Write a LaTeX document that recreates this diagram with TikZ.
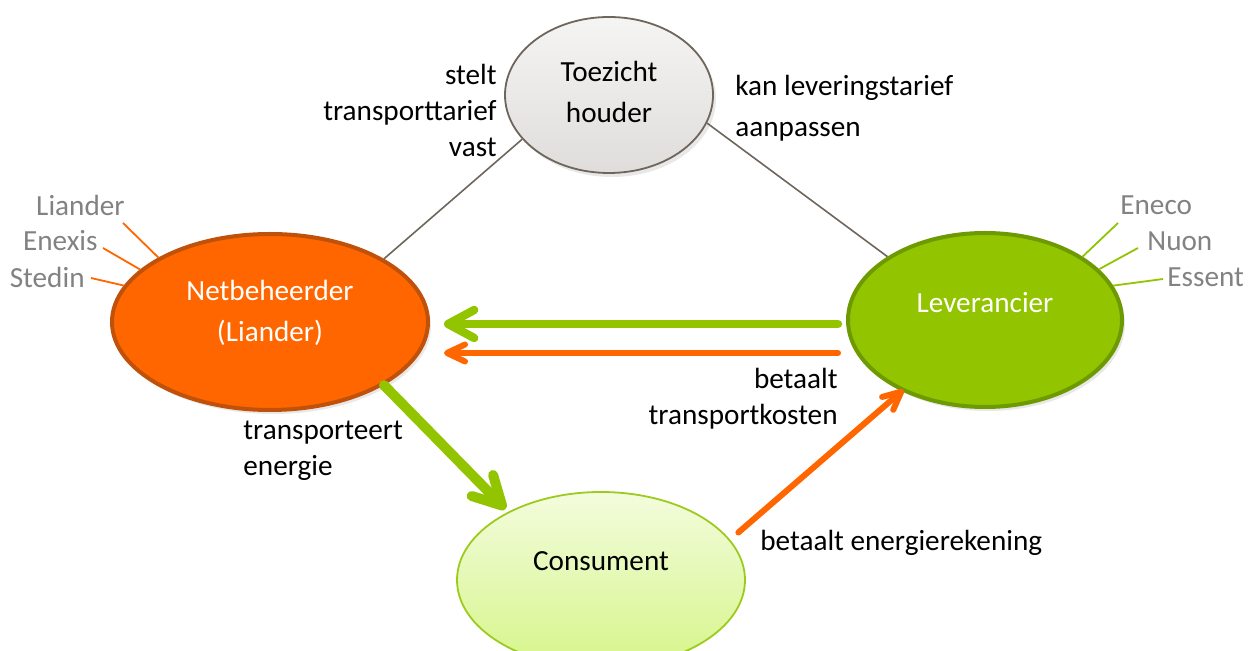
\documentclass[tikz,border=0pt]{standalone}
\usepackage{fontspec}
\setmainfont{Carlito}
\usetikzlibrary{shapes.geometric,arrows.meta,calc,shadows}

\definecolor{netorange}{HTML}{FF6600}
\definecolor{netrand}{HTML}{C0510A}
\definecolor{levgroen}{HTML}{92C400}
\definecolor{levrand}{HTML}{6C9A00}
\definecolor{grijslijn}{HTML}{6E665C}
\definecolor{grijstekst}{HTML}{828282}
\definecolor{consrand}{HTML}{9CCB1E}
\definecolor{consboven}{HTML}{F3FCDD}
\definecolor{consonder}{HTML}{D6F58A}

\tikzset{
  partij/.style={ellipse, inner sep=0pt, draw},
  schaduw/.style={drop shadow={opacity=0.18, shadow xshift=1.5pt, shadow yshift=-2pt}},
  tekst/.style={inner sep=0pt, font=\fontsize{14.6}{18}\selectfont},
  ruim/.style={font=\fontsize{14.6}{20.5}\selectfont},
  bedrijf/.style={tekst, text=grijstekst},
  lijntje/.style={line width=0.9pt},
  relatie/.style={draw=grijslijn, line width=0.8pt},
  groenpijl/.style={draw=levgroen, line width=4.2pt, line cap=round,
    -{Straight Barb[length=13pt, width=14pt, line cap=round, line join=round]}},
  oranjepijl/.style={draw=netorange, line width=3pt, line cap=round,
    -{Straight Barb[length=9pt, width=8.5pt, line cap=round, line join=round]}},
}

\begin{document}
\begin{tikzpicture}[x=0.5pt, y=-0.5pt]
  \useasboundingbox (0,0) rectangle (1252,651);
  \clip (0,0) rectangle (1252,651);

  % de vier partijen
  \node[partij, schaduw, draw=grijslijn, line width=0.9pt, top color=white!93!grijslijn, bottom color=white!78!grijslijn,
        minimum width=104pt, minimum height=78pt] (toez) at (609,95) {};
  \node[partij, schaduw, fill=netorange, draw=netrand, line width=2pt,
        minimum width=158pt, minimum height=88pt] (netb) at (270,322) {};
  \node[partij, schaduw, fill=levgroen, draw=levrand, line width=2pt,
        minimum width=137pt, minimum height=87pt] (lev) at (985,320) {};
  \node[partij, draw=consrand, line width=0.9pt, top color=consboven, bottom color=consonder,
        minimum width=144pt, minimum height=88pt] (cons) at (601,580) {};

  % teksten in de ellipsen
  \node[tekst, ruim, align=center] (toeztxt) at ($(toez)+(0,-3)$) {Toezicht\\houder};
  \node[tekst, ruim, align=center, text=white] (netbtxt) at ($(netb)+(0,-9)$) {Netbeheerder\\(Liander)};
  \node[tekst, text=white] (levtxt) at ($(lev)+(0,-17)$) {Leverancier};
  \node[tekst] (constxt) at ($(cons)+(0,-19)$) {Consument};

  % netbeheerders en leveranciers
  \node[bedrijf, anchor=east] (liander) at (125,205) {Liander};
  \node[bedrijf, anchor=east] (enexis) at (98,241) {Enexis};
  \node[bedrijf, anchor=east] (stedin) at (85,277) {Stedin};
  \node[bedrijf, anchor=west] (eneco) at (1120,205) {Eneco};
  \node[bedrijf, anchor=west] (nuon) at (1147,241) {Nuon};
  \node[bedrijf, anchor=west] (essent) at (1167,277) {Essent};

  \draw[lijntje, netorange] (netb.150) -- ($(liander.east)+(-2,18)$);
  \draw[lijntje, netorange] (netb.158) -- ($(enexis.east)+(5,7)$);
  \draw[lijntje, netorange] (netb.166) -- ($(stedin.east)+(6,1)$);
  \draw[lijntje, levgroen] (lev.33) -- ($(eneco.west)+(-2,18)$);
  \draw[lijntje, levgroen] (lev.24) -- ($(nuon.west)+(-9,7)$);
  \draw[lijntje, levgroen] (lev.15) -- ($(essent.west)+(-4,2)$);

  % relaties met de toezichthouder
  \draw[relatie] (netb.29) -- (toez.207);
  \draw[relatie] (toez.-16) -- (lev.147);

  % stromen
  \draw[groenpijl] ($(lev.west)+(-8,4)$) -- ($(netb.east)+(14,2)$);
  \draw[oranjepijl] ($(lev.west)+(-8,33)$) -- ($(netb.east)+(14,31)$);
  \draw[groenpijl, line width=5pt, -{Straight Barb[length=14pt, width=15pt, line cap=round, line join=round]}]
    (netb.-29) -- ($(cons.143)+(-4,-2)$);
  \draw[oranjepijl] ($(cons.19)+(11,-4)$) -- ($(lev.221)+(1,-2)$);

  % labels bij de pijlen
  \node[tekst, align=right, anchor=east] (stelt) at (497,110) {stelt\\transporttarief\\vast};
  \node[tekst, ruim, align=left, anchor=west] (kan) at (735,108) {kan leveringstarief\\aanpassen};
  \node[tekst, align=right, anchor=east] (betaalt) at (838,399) {betaalt\\transportkosten};
  \node[tekst, align=left, anchor=west] (transp) at (243,451) {transporteert\\energie};
  \node[tekst, anchor=west] (rekening) at (760,543) {betaalt energierekening};
\end{tikzpicture}
\end{document}
